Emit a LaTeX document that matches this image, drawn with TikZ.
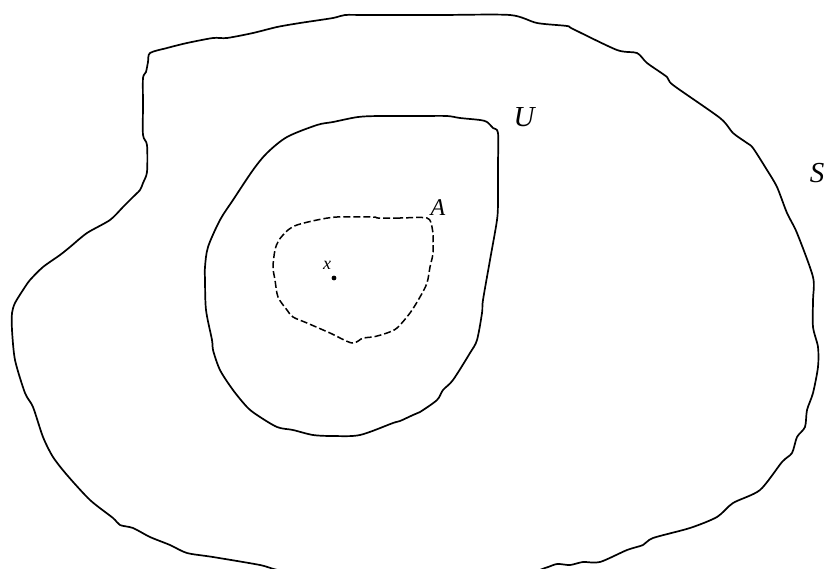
\documentclass[tikz,border=0pt]{standalone}
\usepackage{fontspec}
\setmainfont{Liberation Serif}
\begin{document}
\begin{tikzpicture}[x=1pt,y=-1pt,
  curve/.style={line width=1.7pt, line join=round, line cap=round},
  dashcurve/.style={line width=1.5pt, line join=round, dash pattern=on 7pt off 3pt},
  biglabel/.style={inner sep=0pt, font=\fontsize{29}{32}\selectfont\itshape},
  midlabel/.style={inner sep=0pt, font=\fontsize{24}{28}\selectfont\itshape},
  smalllabel/.style={inner sep=0pt, font=\fontsize{18}{20}\selectfont\itshape}]
\useasboundingbox (0,0) rectangle (825,568);
% outer set S
\draw[curve] plot[smooth cycle, tension=0.45] coordinates {
 (150,53) (167,48) (187,43) (213,38) (227,38) (253,33) (277,27) (300,23) (333,18) (345,15)
 (367,15) (440,15) (510,15) (537,23) (567,26) (573,29) (617,50) (637,53) (647,63) (667,77)
 (673,85) (720,118) (733,133) (747,143) (753,148) (767,170) (777,187) (787,213) (797,233)
 (813,277) (813,300) (813,327) (818,347) (818,367) (813,393) (807,410) (805,427) (797,437)
 (792,453) (782,462) (760,490) (733,503) (717,517) (690,528) (653,538) (643,545) (627,550)
 (600,562) (583,562) (570,565) (557,564) (545,568) (520,574) (400,580) (290,572)
 (260,565) (213,557) (187,553) (170,545) (150,537) (133,528) (120,525) (113,518)
 (90,500) (67,475) (53,457) (43,437) (33,407) (25,393) (15,360) (12,330) (12,313) (15,303)
 (23,290) (30,280) (43,267) (60,255) (70,247) (87,233) (110,220) (123,207) (133,197) (140,190)
 (143,183) (147,172) (147,145) (143,135) (143,105) (143,78) (146,72) (148,62) };
% open set U
\draw[curve] plot[smooth cycle, tension=0.5] coordinates {
 (205,280) (205,267) (208,247) (220,220) (233,200) (253,170) (267,153) (287,137) (317,125)
 (333,122) (358,117) (380,116) (420,116) (447,116) (460,118) (480,120) (487,122) (493,128)
 (498,133) (498,165) (498,200) (497,220) (490,260) (483,300) (482,313) (477,340) (470,353)
 (453,380) (443,390) (437,400) (420,412) (413,415) (400,421) (393,423) (360,435) (333,436)
 (313,435) (293,430) (277,427) (257,415) (247,407) (233,390) (220,370) (213,350) (212,340)
 (206,310) };
% set A (dashed)
\draw[dashcurve] plot[smooth cycle, tension=0.5] coordinates {
 (427,218) (400,218) (378,218) (373,217) (337,217) (317,220) (297,225) (288,230) (279,240)
 (275,250) (273,267) (275,280) (278,297) (287,310) (293,317) (307,323) (330,333) (352,343)
 (363,338) (373,337) (387,333) (397,328) (410,313) (420,297) (427,283) (430,267) (433,253)
 (433,233) (432,227) };
% point x
\fill (334,278) circle (2.4pt);
\node[smalllabel] (xlab) at (327,265) {x};
\node[midlabel] (alab) at (438,208) {A};
\node[biglabel] (ulab) at (524,117) {U};
\node[biglabel] (slab) at (817,173) {S};
\end{tikzpicture}
\end{document}
